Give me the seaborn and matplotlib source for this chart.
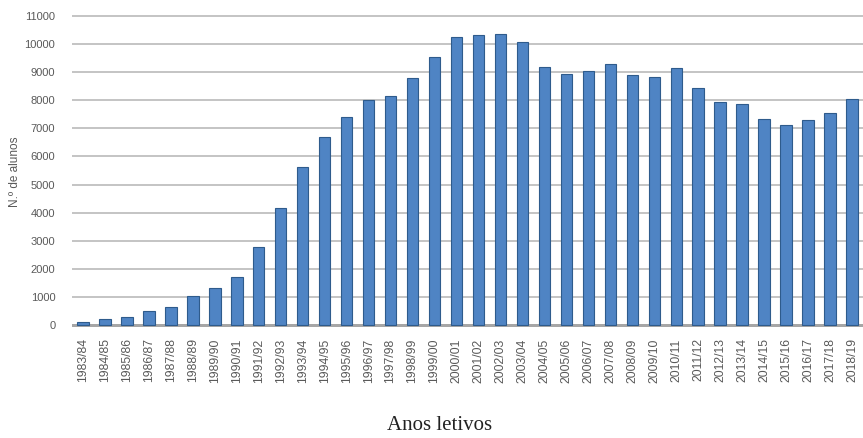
import matplotlib
matplotlib.use("Agg")
import matplotlib.pyplot as plt
import seaborn as sns
import pandas as pd

anos = ["1983/84", "1984/85", "1985/86", "1986/87", "1987/88", "1988/89", "1989/90",
        "1990/91", "1991/92", "1992/93", "1993/94", "1994/95", "1995/96", "1996/97",
        "1997/98", "1998/99", "1999/00", "2000/01", "2001/02", "2002/03", "2003/04",
        "2004/05", "2005/06", "2006/07", "2007/08", "2008/09", "2009/10", "2010/11",
        "2011/12", "2012/13", "2013/14", "2014/15", "2015/16", "2016/17", "2017/18",
        "2018/19"]
alunos = [110, 210, 290, 500, 640, 1040, 1320, 1710, 2790, 4180, 5640, 6680, 7400,
          8000, 8150, 8790, 9540, 10250, 10320, 10360, 10070, 9180, 8950, 9040, 9290,
          8890, 8830, 9140, 8430, 7930, 7860, 7320, 7110, 7290, 7540, 8040]
yticks = list(range(0, 11001, 1000))

df = pd.DataFrame({"ano": anos, "alunos": alunos})

sns.set_theme(style="white")
plt.rcParams["font.family"] = ["Liberation Sans", "DejaVu Sans"]

W, H = 863, 438
fig = plt.figure(figsize=(W / 100, H / 100), dpi=100)
left, right, top, bottom = 72, 863, 11.8, 327.2
ax = fig.add_axes([left / W, 1 - bottom / H, (right - left) / W, (bottom - top) / H])

ax.set_ylim(-80, 11150)
for v in yticks[1:]:
    ax.axhline(v, color="#BFBFBF", lw=1.3, zorder=0)
ax.axhspan(-80, 45, color="#A6A6A6", zorder=1, lw=0)

sns.barplot(data=df, x="ano", y="alunos", ax=ax, color="#4F84C4", width=0.52,
            edgecolor="#2E5B8C", linewidth=0.8, saturation=1, zorder=3)
ax.set_xlim(-0.5, len(anos) - 0.5)

for s in ax.spines.values():
    s.set_visible(False)
ax.set_yticks(yticks)
ax.set_yticklabels([str(v) for v in yticks])
ax.tick_params(axis="y", length=0, pad=12, labelsize=8, labelcolor="#595959")
ax.tick_params(axis="x", length=0, pad=8, labelsize=8.8, labelcolor="#595959",
               labelrotation=90)

ax.set_xlabel("")
ax.set_ylabel("")
fig.text(15 / W, 1 - 172 / H, "N.º de alunos", rotation=90, ha="center", va="center",
         fontsize=8.5, color="#595959")
fig.text(440 / W, 1 - 425 / H, "Anos letivos", ha="center", va="center",
         fontsize=15, color="#222222", family=["Liberation Serif", "DejaVu Serif"])

fig.savefig("out.png", dpi=100)
